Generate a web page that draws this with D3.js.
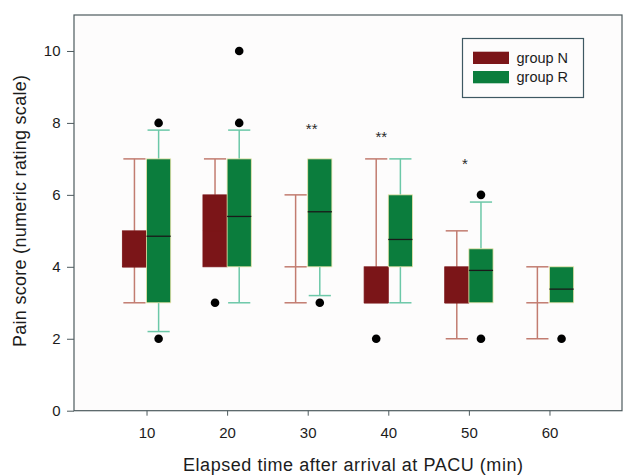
<!DOCTYPE html>
<html><head><meta charset="utf-8">
<script src="https://cdn.jsdelivr.net/npm/d3@7"></script>
<style>body{margin:0;background:#fff}svg{display:block}text{font-family:"Liberation Sans",Arial,sans-serif}</style>
</head><body><svg id="c" width="623" height="476"></svg>
<script>
const times = [10, 20, 30, 40, 50, 60];
const groups = ["group N", "group R"];
// per time point: [whiskerLow, q1, median, q3, whiskerHigh]
const statsN = [[3,4,4,5,7],[4,4,5,6,7],[3,4,4,4,6],[3,3,3,4,7],[2,3,3,4,5],[2,3,3,3,4]];
const statsR = [[2.2,3,4.85,7,7.8],[3,4,5.4,7,7.8],[3.2,4,5.53,7,7],[3,4,4.76,6,7],[3,3,3.9,4.5,5.8],[3,3,3.38,4,4]];
const outliersN = [[],[3],[],[2],[],[]];
const outliersR = [[2,8],[8,10],[3],[],[2,6],[2]];
const sigLabels = ["", "", "**", "**", "*", ""];
const sigY = [null, null, 7.93, 7.72, 6.96, null];
const yTicks = [0, 2, 4, 6, 8, 10];

const svg = d3.select("#c");
const L = 74, R = 622, T = 15, B = 410.7;
const x = d3.scaleLinear().domain([1, 69]).range([L, R]);
const y = d3.scaleLinear().domain([0, 11]).range([B, T]);
const boxW = x(4) - x(1);
const capW = boxW - 2;
const fills = ["#7b1518", "#0b7d3d"];
const whisk = ["#c27c70", "#6cc8a8"];
const axisCol = "#4d5a5e";
const txtCol = "#1c1c1c";

svg.append("rect").attr("x", L).attr("y", T).attr("width", R - L).attr("height", B - T)
  .attr("fill", "#fdfcfc").attr("stroke", axisCol).attr("stroke-width", 1.2);

const series = [
  {stats: statsN, out: outliersN, off: -1},
  {stats: statsR, out: outliersR, off: 0}
];
series.forEach((s, gi) => {
  times.forEach((t, i) => {
    const [lo, q1, med, q3, hi] = s.stats[i];
    const x0 = x(t) + s.off * boxW, cx = x0 + boxW / 2;
    const g = svg.append("g");
    if (lo < q1) {
      g.append("line").attr("x1", cx).attr("x2", cx).attr("y1", y(q1)).attr("y2", y(lo)).attr("stroke", whisk[gi]).attr("stroke-width", 1.5);
      g.append("line").attr("x1", cx - capW/2).attr("x2", cx + capW/2).attr("y1", y(lo)).attr("y2", y(lo)).attr("stroke", whisk[gi]).attr("stroke-width", 1.5);
    }
    if (hi > q3) {
      g.append("line").attr("x1", cx).attr("x2", cx).attr("y1", y(q3)).attr("y2", y(hi)).attr("stroke", whisk[gi]).attr("stroke-width", 1.5);
      g.append("line").attr("x1", cx - capW/2).attr("x2", cx + capW/2).attr("y1", y(hi)).attr("y2", y(hi)).attr("stroke", whisk[gi]).attr("stroke-width", 1.5);
    }
    if (q3 > q1) {
      g.append("rect").attr("x", x0).attr("y", y(q3)).attr("width", boxW).attr("height", y(q1) - y(q3))
        .attr("fill", fills[gi]).attr("stroke", gi === 1 ? "#e9e4a8" : fills[gi]).attr("stroke-width", 0.8);
      g.append("line").attr("x1", x0).attr("x2", x0 + boxW).attr("y1", y(med)).attr("y2", y(med))
        .attr("stroke", gi === 1 ? "#1a1a1a" : fills[gi]).attr("stroke-width", 1.3);
    } else {
      g.append("line").attr("x1", cx - capW/2).attr("x2", cx + capW/2).attr("y1", y(q1)).attr("y2", y(q1))
        .attr("stroke", whisk[gi]).attr("stroke-width", 1.5);
    }
    s.out[i].forEach(v => {
      g.append("circle").attr("cx", cx).attr("cy", y(v)).attr("r", 4.3).attr("fill", "#000");
    });
  });
});

// significance marks
times.forEach((t, i) => {
  if (!sigLabels[i]) return;
  const dx = [0,0,4,-7,-4,0][i];
  svg.append("text").attr("x", x(t) + dx).attr("y", y(sigY[i]) + 9).attr("text-anchor", "middle")
    .attr("font-size", 15).attr("fill", "#2a2a2a").text(sigLabels[i]);
});

// axes ticks
const ax = svg.append("g").attr("transform", `translate(0,${B})`)
  .call(d3.axisBottom(x).tickValues(times).tickSize(5));
ax.select(".domain").remove();
ax.selectAll(".tick line").attr("stroke", axisCol);
ax.selectAll(".tick text").attr("font-size", 15).attr("fill", txtCol).attr("y", 27).attr("dy", 0)
  .attr("font-family", "Liberation Sans, Arial, sans-serif");

const ay = svg.append("g").attr("transform", `translate(${L},0)`)
  .call(d3.axisLeft(y).tickValues(yTicks).tickSize(7));
ay.select(".domain").remove();
ay.selectAll(".tick line").attr("stroke", axisCol);
ay.selectAll(".tick text").attr("font-size", 15).attr("fill", txtCol).attr("x", -13.5)
  .attr("font-family", "Liberation Sans, Arial, sans-serif");

// axis titles
svg.append("text").attr("x", 353).attr("y", 470.5).attr("text-anchor", "middle").attr("font-size", 18)
  .attr("textLength", 340).attr("lengthAdjust", "spacing")
  .attr("fill", txtCol).text("Elapsed time after arrival at PACU (min)");
svg.append("text").attr("transform", "translate(26,211) rotate(-90)").attr("text-anchor", "middle")
  .attr("font-size", 18).attr("textLength", 272).attr("lengthAdjust", "spacing")
  .attr("fill", txtCol).text("Pain score (numeric rating scale)");

// legend
const lg = svg.append("g");
lg.append("rect").attr("x", 462.5).attr("y", 38.5).attr("width", 121).attr("height", 59)
  .attr("fill", "#fdfcfc").attr("stroke", "#3e5862").attr("stroke-width", 1.2);
groups.forEach((name, gi) => {
  const yy = 51.7 + gi * 19.3;
  lg.append("rect").attr("x", 473).attr("y", yy).attr("width", 36).attr("height", 12.3).attr("fill", fills[gi]);
  lg.append("text").attr("x", 516.5).attr("y", yy + 11.2).attr("font-size", 14.5).attr("fill", txtCol).text(name);
});
</script></body></html>
